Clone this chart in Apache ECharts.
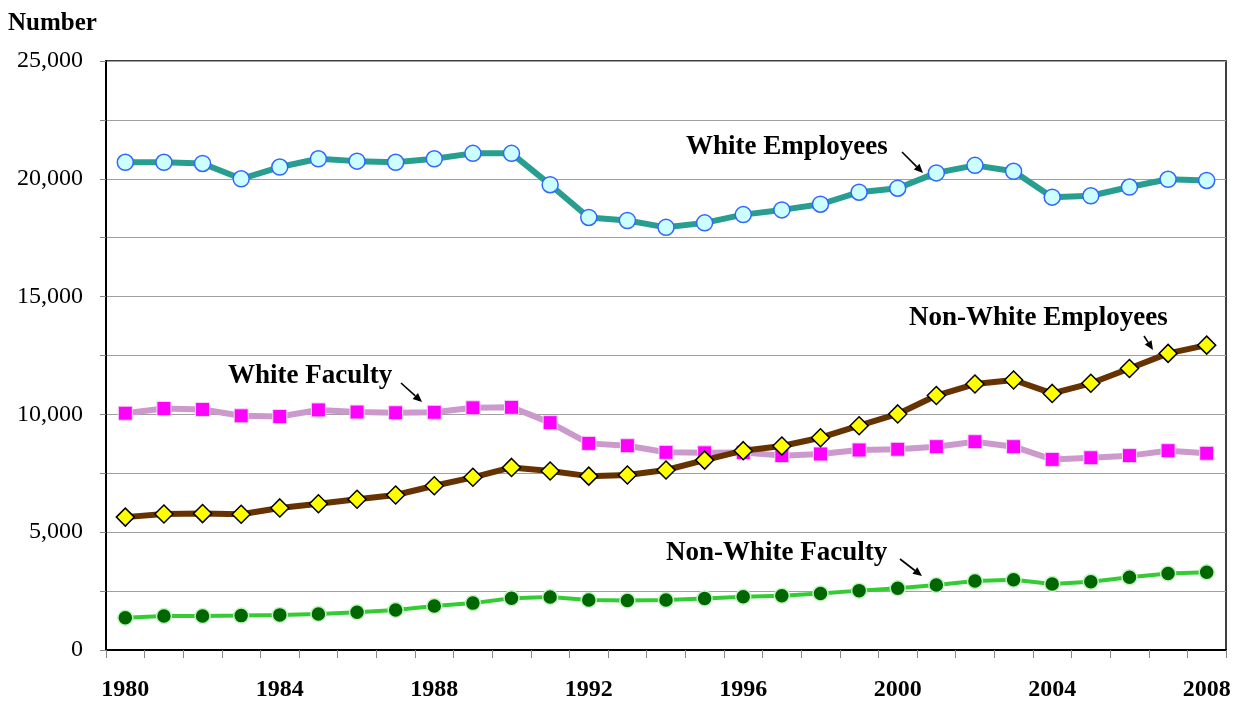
<!DOCTYPE html>
<html>
<head>
<meta charset="utf-8">
<script src="https://cdn.jsdelivr.net/npm/echarts@6/dist/echarts.min.js"></script>
<style>
html,body{margin:0;padding:0;background:#fff;}
#chart{width:1239px;height:703px;}
</style>
</head>
<body>
<div id="chart"></div>
<script>
var years = ['1980','1981','1982','1983','1984','1985','1986','1987','1988','1989','1990','1991','1992','1993','1994','1995','1996','1997','1998','1999','2000','2001','2002','2003','2004','2005','2006','2007','2008'];
var whiteEmployees = [20700,20700,20650,20000,20500,20850,20750,20700,20850,21080,21080,19750,18360,18230,17940,18130,18480,18680,18920,19430,19600,20250,20570,20320,19220,19280,19650,19980,19930];
var whiteFaculty = [10050,10250,10210,9940,9910,10190,10100,10070,10090,10280,10300,9650,8770,8670,8390,8370,8380,8250,8320,8490,8520,8630,8840,8630,8090,8160,8250,8460,8350];
var nonWhiteEmployees = [5640,5770,5790,5760,6030,6210,6400,6580,6970,7330,7750,7600,7380,7430,7640,8060,8460,8660,9010,9520,10020,10800,11290,11460,10890,11320,11950,12590,12940];
var nonWhiteFaculty = [1370,1440,1440,1460,1490,1530,1600,1700,1870,1990,2200,2250,2120,2100,2120,2190,2260,2300,2400,2520,2620,2760,2930,2980,2800,2900,3090,3250,3300];

var FONT = '"Liberation Serif","Times New Roman",serif';

function arrow(x1, y1, x2, y2) {
  var dx = x2 - x1, dy = y2 - y1;
  var len = Math.sqrt(dx*dx + dy*dy);
  var ux = dx/len, uy = dy/len;
  var hl = 9, hw = 4;
  var bx = x2 - ux*hl, by = y2 - uy*hl;
  return [
    {type:'line', shape:{x1:x1,y1:y1,x2:bx,y2:by}, style:{stroke:'#000',lineWidth:1.6}, z:100},
    {type:'polygon', shape:{points:[[x2,y2],[bx - uy*hw, by + ux*hw],[bx + uy*hw, by - ux*hw]]}, style:{fill:'#000'}, z:100}
  ];
}
function label(text, x, y) {
  return {type:'text', left:x, top:y - 14, z:100,
    style:{text:text, font:'bold 27px ' + FONT, fill:'#000'}};
}

var graphics = [
  {type:'text', left:8, top:11, style:{text:'Number', font:'bold 25px ' + FONT, fill:'#000'}},
  label('White Employees', 686, 148),
  label('Non-White Employees', 909, 319),
  label('White Faculty', 228, 377),
  label('Non-White Faculty', 666, 554)
].concat(arrow(902,152,923,173), arrow(1144,336,1153,350), arrow(401,383,422,402), arrow(900,559,922,576));

var chart = echarts.init(document.getElementById('chart'));
chart.setOption({
  animation:false,
  backgroundColor:'#fff',
  grid:{left:106, right:13, top:61, bottom:53, show:true, borderColor:'#000', borderWidth:1.5},
  xAxis:{
    type:'category', data:years, boundaryGap:true,
    axisLine:{lineStyle:{color:'#000', width:2}},
    axisTick:{show:true, interval:0, length:8, lineStyle:{color:'#888', width:1}},
    axisLabel:{interval:3, margin:28, fontFamily:FONT, fontSize:24, fontWeight:'bold', color:'#000'},
    splitLine:{show:false}
  },
  yAxis:{
    type:'value', min:0, max:25000, interval:2500,
    axisLine:{show:true, lineStyle:{color:'#000', width:2}},
    axisTick:{show:true, length:6, lineStyle:{color:'#888', width:1}},
    axisLabel:{margin:23, fontFamily:FONT, fontSize:24, color:'#000',
      formatter:function(v){ return v % 5000 === 0 ? v.toLocaleString('en-US') : ''; }},
    splitLine:{show:true, lineStyle:{color:'#a0a0a0', width:1}}
  },
  graphic:graphics,
  series:[
    {name:'White Faculty', type:'line', data:whiteFaculty, symbol:'rect', symbolSize:14,
      lineStyle:{color:'#cc99cc', width:6}, itemStyle:{color:'#ff00ff', borderColor:'#f4d8f4', borderWidth:1}, z:2},
    {name:'Non-White Faculty', type:'line', data:nonWhiteFaculty, symbol:'circle', symbolSize:15,
      lineStyle:{color:'#33cc33', width:4}, itemStyle:{color:'#006600', borderColor:'#bff5bf', borderWidth:1.5}, z:2},
    {name:'White Employees', type:'line', data:whiteEmployees, symbol:'circle', symbolSize:16,
      lineStyle:{color:'#289e90', width:6}, itemStyle:{color:'#ccffff', borderColor:'#3366ff', borderWidth:1.5}, z:3},
    {name:'Non-White Employees', type:'line', data:nonWhiteEmployees, symbol:'diamond', symbolSize:18,
      lineStyle:{color:'#663300', width:6}, itemStyle:{color:'#ffff00', borderColor:'#000', borderWidth:1.5}, z:4}
  ]
});
</script>
</body>
</html>
